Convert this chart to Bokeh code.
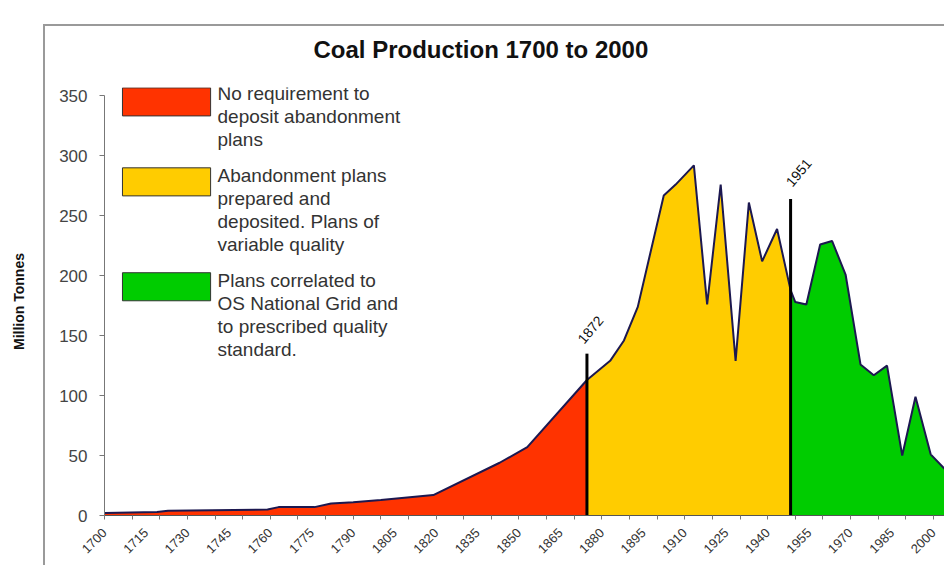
import math
from bokeh.plotting import figure
from bokeh.models import FixedTicker
from bokeh.core.properties import value
from bokeh.embed import file_html
from bokeh.resources import INLINE

# ---------------- data ----------------
red_years = [1700, 1719, 1723, 1759, 1763, 1776, 1782, 1790, 1800, 1819, 1843, 1853, 1874.6]
red_vals = [2, 3, 4, 5, 7, 7, 10, 11, 13, 17, 44, 57, 113]

yellow_years = [1874.6, 1883, 1888, 1893, 1902.4, 1906.7, 1913.3, 1918.1, 1923, 1928.4,
                1933.2, 1938, 1943.4, 1948.3]
yellow_vals = [113, 129, 146, 174, 267, 276, 292, 176, 276, 129, 261, 212, 239, 188]

green_years = [1948.3, 1950, 1954, 1959, 1963.3, 1968.2, 1973.6, 1978.4, 1983.2, 1988.7,
               1993.5, 1999, 2004]
green_vals = [188, 178, 176, 226, 229, 201, 126, 117, 125, 50, 99, 51, 39]

divider_years = [1874.6, 1948.3]
divider_tops = [135, 264]
divider_labels = ["1872", "1951"]

x_tick_years = list(range(1700, 2001, 15))
x_minor_years = list(range(1700, 2006, 10))
y_ticks = list(range(0, 351, 50))

legend_labels = [
    ["No requirement to", "deposit abandonment", "plans"],
    ["Abandonment plans", "prepared and", "deposited. Plans of", "variable quality"],
    ["Plans correlated to", "OS National Grid and", "to prescribed quality", "standard."],
]

RED, YELLOW, GREEN = "#FF3300", "#FFCC00", "#00CC00"
colors = [RED, YELLOW, GREEN]
FONT = "Liberation Sans"

# ---------------- figure ----------------
border_css = {
    "background-image": "linear-gradient(#9a9a9a,#9a9a9a), linear-gradient(#9a9a9a,#9a9a9a)",
    "background-size": "2px calc(100% - 24px), calc(100% - 43px) 2px",
    "background-position": "43px 24px, 43px 24px",
    "background-repeat": "no-repeat",
}
p = figure(width=944, height=565, x_range=(1700, 2004), y_range=(0, 357),
           output_backend="svg", toolbar_location=None,
           min_border_left=104, min_border_right=0, min_border_top=87, min_border_bottom=50,
           styles=border_css)
p.outline_line_color = None
p.xgrid.visible = False
p.ygrid.visible = False
p.background_fill_color = "white"
p.border_fill_color = None

p.title.text = "Coal Production 1700 to 2000"
p.title.text_font = FONT
p.title.text_font_size = "24px"
p.title.text_font_style = "bold"
p.title.text_color = "#111111"
p.title.align = "left"
p.title.offset = 209
p.title.standoff = 49

# areas
for yrs, vals, c in [(red_years, red_vals, RED), (yellow_years, yellow_vals, YELLOW),
                     (green_years, green_vals, GREEN)]:
    p.varea(x=yrs, y1=[0] * len(yrs), y2=vals, fill_color=c)

all_years = red_years + yellow_years[1:] + green_years[1:]
all_vals = red_vals + yellow_vals[1:] + green_vals[1:]
p.line(all_years, all_vals, line_color="#1C1850", line_width=2)

# dividers
p.segment(x0=divider_years, y0=[0, 0], x1=divider_years, y1=divider_tops,
          line_color="black", line_width=3)
p.text(x=[1875.9, 1951.2], y=[155, 286], text=divider_labels, angle=math.radians(50),
       text_align="center", text_baseline="middle", text_font=value(FONT),
       text_font_size="14px", text_color="#111111")

# legend (manual)
box_left, box_right = 1706.5, 1738.4
box_tops = [356.7, 290.0, 202.5]
box_h = 23.4
text_x = 1740.9
line_tops = [351.7, 283.3, 195.8]
line_step = 19.2
p.quad(left=[box_left] * 3, right=[box_right] * 3, top=box_tops,
       bottom=[t - box_h for t in box_tops], fill_color=colors, line_color="#333333",
       line_width=1)
for lines, y0 in zip(legend_labels, line_tops):
    p.text(x=[text_x] * len(lines), y=[y0 - i * line_step for i in range(len(lines))],
           text=lines, text_align="left", text_baseline="middle",
           text_font=value(FONT), text_font_size="19px", text_color="#333333")

# axes
xa = p.xaxis[0]
xa.ticker = FixedTicker(ticks=x_tick_years, minor_ticks=x_minor_years)
xa.major_label_orientation = math.pi / 4
xa.major_label_text_font = FONT
xa.major_label_text_font_size = "13px"
xa.major_label_text_color = "#333333"
xa.major_tick_out = 0
xa.major_tick_in = 0
xa.minor_tick_out = 4
xa.minor_tick_in = 0
xa.minor_tick_line_color = "#777777"
xa.axis_line_color = "#555555"
xa.major_label_standoff = 11

ya = p.yaxis[0]
ya.ticker = FixedTicker(ticks=y_ticks)
ya.bounds = (0, 350)
ya.axis_line_color = "#777777"
ya.major_tick_line_color = "#777777"
ya.major_tick_out = 5
ya.major_tick_in = 0
ya.minor_tick_out = 0
ya.minor_tick_in = 0
ya.major_label_text_font = FONT
ya.major_label_text_font_size = "17px"
ya.major_label_text_color = "#444444"
ya.major_label_standoff = 12
ya.axis_label = "Million Tonnes"
ya.axis_label_text_font = FONT
ya.axis_label_text_font_size = "14px"
ya.axis_label_text_font_style = "bold"
ya.axis_label_text_color = "#111111"
ya.axis_label_standoff = 29

open("out.html", "w").write(file_html(p, INLINE))
